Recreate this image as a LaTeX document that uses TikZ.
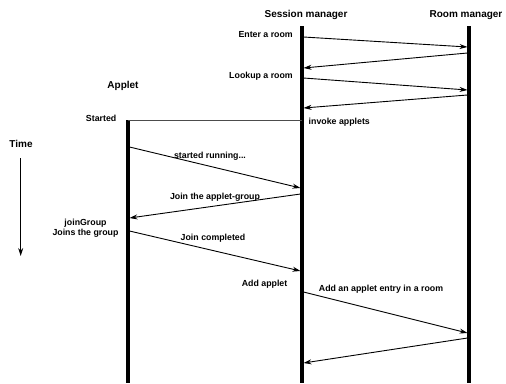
\documentclass[tikz,border=0pt]{standalone}
\usepackage{fontspec}
\setmainfont{Liberation Sans}
\usetikzlibrary{arrows.meta}
\tikzset{
  lifeline/.style={line width=3.2pt},
  msg/.style={line width=0.9pt,-{Stealth[length=8pt,width=5pt]}},
  startline/.style={line width=0.7pt,black!70},
  head/.style={font=\fontsize{10}{12}\selectfont\bfseries,inner sep=0pt},
  lbl/.style={font=\fontsize{8.8}{10}\selectfont\bfseries,inner sep=0pt},
}
\begin{document}
\begin{tikzpicture}[x=1pt,y=-1pt]
\useasboundingbox (0,0) rectangle (506,383);
% lifeline ends
\coordinate (smtop) at (302,26);
\coordinate (smbot) at (302,383);
\coordinate (rmtop) at (469,26);
\coordinate (rmbot) at (469,383);
\coordinate (aptop) at (128,120);
\coordinate (apbot) at (128,383);
\draw[lifeline] (smtop) -- (smbot);
\draw[lifeline] (rmtop) -- (rmbot);
\draw[lifeline] (aptop) -- (apbot);
% headings
\node[head] (hsm) at (306,15) {Session manager};
\node[head] (hrm) at (466,15) {Room manager};
\node[head] (hap) at (123,86) {Applet};
\node[head] (htime) at (21,144) {Time};
\coordinate (t1) at (20.7,158);
\coordinate (t2) at (20.7,256);
\draw[msg] (t1) -- (t2);
% message endpoints
\coordinate (s1) at (303.5,37);  \coordinate (r1) at (467.5,47);
\coordinate (r2) at (467.5,53);  \coordinate (s2) at (303.5,68);
\coordinate (s3) at (303.5,78);  \coordinate (r3) at (467.5,90);
\coordinate (r4) at (467.5,95);  \coordinate (s4) at (303.5,108);
\coordinate (a0) at (128,120);   \coordinate (s0) at (302,120);
\coordinate (a5) at (129.5,147); \coordinate (s5) at (300.5,188);
\coordinate (s6) at (300.5,194); \coordinate (a6) at (129.5,218);
\coordinate (a7) at (129.5,231); \coordinate (s7) at (300.5,271);
\coordinate (s8) at (303.5,292); \coordinate (r8) at (467.5,333);
\coordinate (r9) at (467.5,338); \coordinate (s9) at (303.5,363);
\draw[msg] (s1) -- (r1);
\draw[msg] (r2) -- (s2);
\draw[msg] (s3) -- (r3);
\draw[msg] (r4) -- (s4);
\draw[startline] (a0) -- (s0);
\draw[msg] (a5) -- (s5);
\draw[msg] (s6) -- (a6);
\draw[msg] (a7) -- (s7);
\draw[msg] (s8) -- (r8);
\draw[msg] (r9) -- (s9);
% labels
\node[lbl,anchor=east] (l1) at (293,35) {Enter a room};
\node[lbl,anchor=east] (l2) at (293,76.5) {Lookup a room};
\node[lbl,anchor=east] (l3) at (116.5,118) {Started};
\node[lbl,anchor=west] (l4) at (308.5,122) {invoke applets};
\node[lbl] (l5) at (210,156) {started running...};
\node[lbl] (l6) at (215,197) {Join the applet-group};
\node[lbl,align=center,font=\fontsize{8.8}{10}\selectfont\bfseries] (l7) at (85.5,228) {joinGroup\\Joins the group};
\node[lbl] (l8) at (213,238) {Join completed};
\node[lbl,anchor=east] (l9) at (287.5,284) {Add applet};
\node[lbl] (l10) at (381,289) {Add an applet entry in a room};
\end{tikzpicture}
\end{document}
